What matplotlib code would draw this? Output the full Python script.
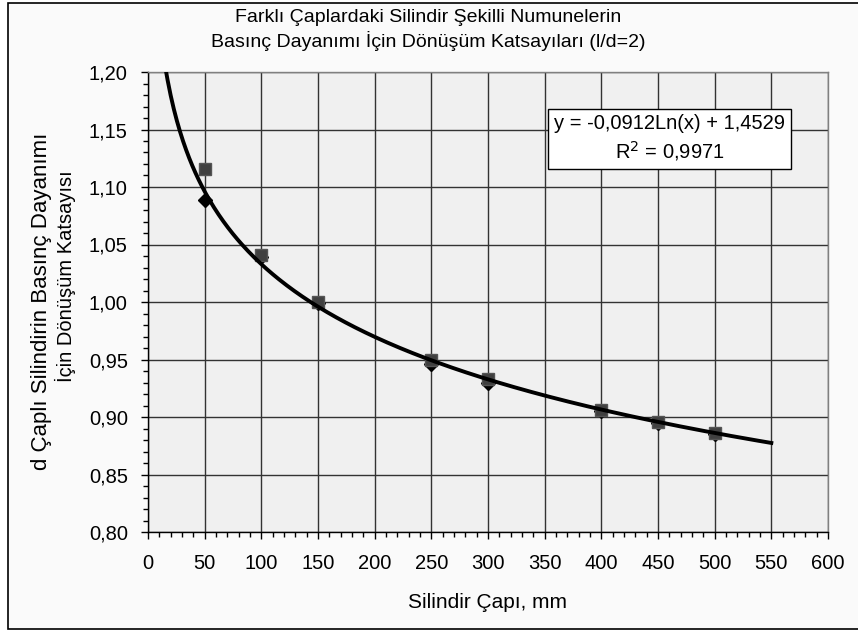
"""
conversion factors for cylinder specimens of different diameters (l/d=2)
outputs: out.png
"""

import numpy as np
import matplotlib.pyplot as plt
from matplotlib.patches import Rectangle
from matplotlib.ticker import MultipleLocator, FuncFormatter

# -- DATA --
diameters = [50, 100, 150, 250, 300, 400, 450, 500]
factor_square = [1.116, 1.041, 1.000, 0.950, 0.933, 0.906, 0.896, 0.886]
factor_diamond = [1.089, 1.039, 0.999, 0.946, 0.930, 0.905, 0.895, 0.885]

# trendline coefficients as printed on the chart
TREND_A = -0.0912
TREND_B = 1.4529
TREND_R2 = 0.9971
TREND_RANGE = (5, 550)

TITLE = "Farklı Çaplardaki Silindir Şekilli Numunelerin\nBasınç Dayanımı İçin Dönüşüm Katsayıları (l/d=2)"
XLABEL = "Silindir Çapı, mm"
YLABEL_1 = "d Çaplı Silindirin Basınç Dayanımı"
YLABEL_2 = "İçin Dönüşüm Katsayısı"

W, H = 858, 632

# -- PLOT --
plt.rcParams["font.family"] = ["Liberation Sans", "DejaVu Sans"]

fig = plt.figure(figsize=(W / 100, H / 100), dpi=100, facecolor="white")

# outer chart frame
fig.patches.append(
    Rectangle(
        (8 / W, 3 / H), 1.2, 626 / H,
        transform=fig.transFigure, facecolor="#fafafa",
        edgecolor="black", linewidth=1.2, zorder=-10,
    )
)

ax = fig.add_axes([148 / W, 1 - 532 / H, 680 / W, 460 / H])
ax.set_facecolor("#f0f0f0")

ax.set_xlim(0, 600)
ax.set_ylim(0.80, 1.20)
ax.xaxis.set_major_locator(MultipleLocator(50))
ax.xaxis.set_minor_locator(MultipleLocator(10))
ax.yaxis.set_major_locator(MultipleLocator(0.05))
ax.yaxis.set_minor_locator(MultipleLocator(0.01))
ax.yaxis.set_major_formatter(FuncFormatter(lambda v, p: f"{v:.2f}".replace(".", ",")))

ax.grid(which="major", color="#333333", linewidth=1.0)
ax.set_axisbelow(True)

for side in ["top", "right"]:
    ax.spines[side].set_color("#808080")
    ax.spines[side].set_linewidth(1.0)
for side in ["left", "bottom"]:
    ax.spines[side].set_color("black")
    ax.spines[side].set_linewidth(1.0)

ax.tick_params(axis="both", which="major", direction="out", length=5, width=1, labelsize=14.5)
ax.tick_params(axis="both", which="minor", direction="out", length=3.5, width=1)
ax.tick_params(axis="x", which="major", pad=11)
ax.tick_params(axis="y", which="major", pad=9.5)

# data points
ax.plot(diameters, factor_diamond, linestyle="none", marker="D", markersize=7,
        color="black", zorder=3)
ax.plot(diameters, factor_square, linestyle="none", marker="s", markersize=9,
        markerfacecolor="#404040", markeredgecolor="#555555", zorder=4)

# logarithmic trendline
x_trend = np.linspace(TREND_RANGE[0], TREND_RANGE[1], 400)
ax.plot(x_trend, TREND_A * np.log(x_trend) + TREND_B, color="black",
        linewidth=2.8, zorder=5)

# equation box
eq_text = (
    f"y = {TREND_A:.4f}Ln(x) + {TREND_B:.4f}".replace(".", ",")
    + "\n"
    + r"R$^2$ = " + f"{TREND_R2:.4f}".replace(".", ",")
)
ax.text(
    554 / W, 1 - 163 / H, eq_text, transform=fig.transFigure,
    ha="left", va="bottom", fontsize=14.5, linespacing=1.3, multialignment="center",
    bbox=dict(boxstyle="square,pad=0.3", facecolor="white", edgecolor="black", linewidth=1),
    zorder=6,
)

fig.text(428 / W, 1 - 30 / H, TITLE, ha="center", va="center", fontsize=14,
         linespacing=1.35)
fig.text(488 / W, 1 - 602 / H, XLABEL, ha="center", va="center", fontsize=15)
fig.text(42 / W, 1 - 470 / H, YLABEL_1, rotation=90, ha="center", va="bottom", fontsize=16)
fig.text(65 / W, 1 - 276 / H, YLABEL_2, rotation=90, ha="center", va="center", fontsize=14.5)

# -- SAVE --
fig.savefig("out.png", dpi=100)
plt.close(fig)
